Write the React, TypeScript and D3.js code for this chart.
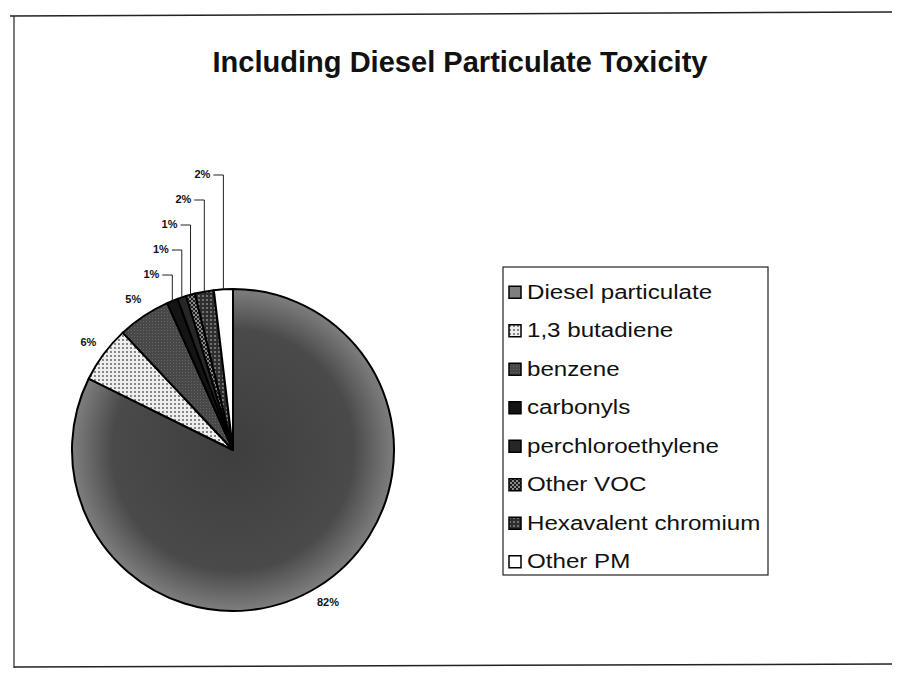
import React from "react";
import * as d3 from "d3";

// slice data (percent of total)
const categories = [
  "Diesel particulate",
  "1,3 butadiene",
  "benzene",
  "carbonyls",
  "perchloroethylene",
  "Other VOC",
  "Hexavalent chromium",
  "Other PM",
];
const values = [82.3, 5.7, 5.3, 1.1, 0.9, 0.9, 1.9, 1.9];
const title = "Including Diesel Particulate Toxicity";

const fills = [
  "url(#gradDiesel)",
  "url(#patDots)",
  "url(#patBenzene)",
  "#141414",
  "#262626",
  "url(#patChecker)",
  "url(#patHex)",
  "#ffffff",
];

const width = 898;
const height = 677;
const cx = 233;
const cy = 450;
const r = 161;
const font = "'Liberation Sans', Arial, Helvetica, sans-serif";

const App: React.FC = () => {
  const total = d3.sum(values);
  const pie = d3
    .pie<number>()
    .sort(null)
    .value(d => d);
  const arcs = pie(values);
  const arc = d3.arc<d3.PieArcDatum<number>>().innerRadius(0).outerRadius(r);
  const labelArc = d3
    .arc<d3.PieArcDatum<number>>()
    .innerRadius(r + 19)
    .outerRadius(r + 19);
  const pct = (v: number) => `${Math.round((v / total) * 100)}%`;

  // legend rows
  const legendY = d3
    .scaleBand()
    .domain(categories)
    .range([274, 582]);

  return (
    <svg
      width={width}
      height={height}
      style={{ position: "absolute", left: 0, top: 0, background: "#fff" }}
    >
      <defs>
        <radialGradient id="gradDiesel" cx={0} cy={0} r={r} gradientUnits="userSpaceOnUse">
          <stop offset="0%" stopColor="#3e3e3e" />
          <stop offset="75%" stopColor="#4a4a4a" />
          <stop offset="100%" stopColor="#7e7e7e" />
        </radialGradient>
        <pattern id="patDots" width="4" height="4" patternUnits="userSpaceOnUse">
          <rect width="4" height="4" fill="#eeeeee" />
          <circle cx="2" cy="2" r="0.9" fill="#555" />
        </pattern>
        <pattern id="patBenzene" width="3" height="3" patternUnits="userSpaceOnUse">
          <rect width="3" height="3" fill="#484848" />
          <rect width="1" height="1" fill="#666" />
        </pattern>
        <pattern id="patChecker" width="4" height="4" patternUnits="userSpaceOnUse">
          <rect width="4" height="4" fill="#1c1c1c" />
          <rect width="2" height="2" fill="#8a8a8a" />
          <rect x="2" y="2" width="2" height="2" fill="#8a8a8a" />
        </pattern>
        <pattern id="patHex" width="4" height="4" patternUnits="userSpaceOnUse">
          <rect width="4" height="4" fill="#2e2e2e" />
          <circle cx="2" cy="2" r="1" fill="#888" />
        </pattern>
      </defs>

      {/* page frame */}
      <line x1={10} y1={16} x2={892} y2={12} stroke="#222" strokeWidth={1.5} />
      <line x1={14} y1={16} x2={14} y2={668} stroke="#222" strokeWidth={1.2} />
      <line x1={14} y1={667} x2={892} y2={664} stroke="#222" strokeWidth={1.5} />

      <text
        x={460}
        y={72}
        textAnchor="middle"
        fontFamily={font}
        fontWeight="bold"
        fontSize={30}
        textLength={495}
        lengthAdjust="spacingAndGlyphs"
        fill="#111"
      >
        {title}
      </text>

      {/* slices */}
      <g transform={`translate(${cx},${cy})`}>
        {arcs.map((a, i) => (
          <path
            key={categories[i]}
            d={arc(a) || ""}
            fill={fills[i]}
            stroke="#000"
            strokeWidth={2}
            strokeLinejoin="round"
          />
        ))}
      </g>

      {/* labels */}
      <g fontFamily={font} fontWeight="bold" fontSize={11} fill="#111">
        {arcs.map((a, i) => {
          if (i < 3) {
            const [lx, ly] = labelArc.centroid(a);
            return (
              <text
                key={i}
                x={cx + lx}
                y={cy + ly}
                textAnchor="middle"
                dominantBaseline="middle"
              >
                {pct(a.value)}
              </text>
            );
          }
          const mid = (a.startAngle + a.endAngle) / 2;
          const px = cx + r * Math.sin(mid);
          const py = cy - r * Math.cos(mid);
          const ty = cy - r - 14 - (i - 3) * 25;
          return (
            <g key={i}>
              <polyline
                points={`${px - 10},${ty} ${px},${ty} ${px},${py}`}
                fill="none"
                stroke="#222"
                strokeWidth={1}
              />
              <text x={px - 13} y={ty} textAnchor="end" dominantBaseline="middle">
                {pct(a.value)}
              </text>
            </g>
          );
        })}
      </g>

      {/* legend */}
      <rect x={503} y={267} width={265} height={308} fill="#fff" stroke="#222" strokeWidth={1.2} />
      {categories.map((c, i) => {
        const yc = (legendY(c) || 0) + legendY.bandwidth() / 2;
        return (
          <g key={c}>
            <rect x={509} y={yc - 7} width={12} height={12} fill={fills[i]} stroke="#000" strokeWidth={1.5} />
            <g transform={`translate(527,${yc}) scale(1.15,1)`}>
              <text dominantBaseline="middle" fontFamily={font} fontSize={21} fill="#111">
                {c}
              </text>
            </g>
          </g>
        );
      })}
    </svg>
  );
};

export default App;
